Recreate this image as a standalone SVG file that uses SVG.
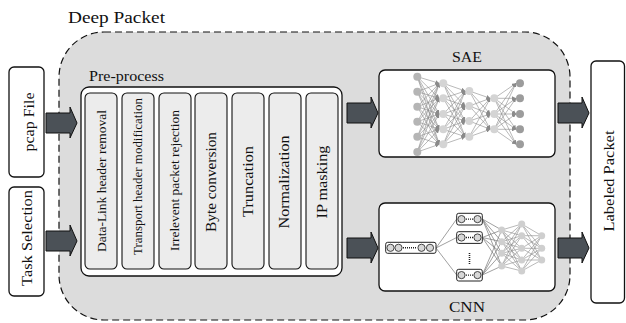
<svg xmlns="http://www.w3.org/2000/svg" width="626" height="323" viewBox="0 0 626 323">
<defs>
<style>
text{font-family:"Liberation Serif","Times New Roman",serif;fill:#111;}
.box{fill:#fff;stroke:#111;stroke-width:1.3;}
.col{fill:#ececec;stroke:#111;stroke-width:1.1;}
.arrow{fill:#4b5157;stroke:#111;stroke-width:1;}
.sae{stroke:#8a8a8a;stroke-width:0.6;fill:none;marker-end:url(#ah);}
.cnn{stroke:#777;stroke-width:0.7;fill:none;}
.cnnd{stroke:#8a8a8a;stroke-width:0.6;fill:none;}
.vbox{fill:#fff;stroke:#222;stroke-width:1;}
.vc{fill:#d8d8d8;stroke:#333;stroke-width:0.9;}
</style>
<marker id="ah" viewBox="0 0 6 6" refX="6" refY="3" markerWidth="4" markerHeight="4" orient="auto" markerUnits="userSpaceOnUse">
<path d="M0,0 L6,3 L0,6 z" fill="#8a8a8a"/>
</marker>
<path id="arr" d="M0,-10 H24 V-16 L31,0 L24,15 V10 H0 Z"/>
</defs>

<g id="deep-packet">
<rect x="59" y="32" width="511" height="288" rx="45" ry="45" fill="#dcdcdc" stroke="#111" stroke-width="1.2" stroke-dasharray="7,4"/>
<text x="68" y="23" font-size="16" textLength="97" lengthAdjust="spacingAndGlyphs">Deep Packet</text>
</g>

<g id="pcap-file">
<rect class="box" x="9" y="67" width="35" height="110" rx="5"/>
<text transform="rotate(-90 33.5 122)" x="33.5" y="122" font-size="15" text-anchor="middle" textLength="59" lengthAdjust="spacingAndGlyphs">pcap File</text>
</g>

<g id="task-selection">
<rect class="box" x="9" y="187" width="35" height="109" rx="5"/>
<text transform="rotate(-90 31.5 238)" x="31.5" y="238" font-size="15" text-anchor="middle" textLength="96" lengthAdjust="spacingAndGlyphs">Task Selection</text>
</g>

<g id="pre-process">
<text x="89" y="81" font-size="14" textLength="75" lengthAdjust="spacingAndGlyphs">Pre-process</text>
<rect class="box" x="81" y="87" width="261" height="189" rx="8"/>
<rect class="col" x="85" y="93" width="32" height="176" rx="5"/>
<rect class="col" x="122" y="93" width="32" height="176" rx="5"/>
<rect class="col" x="159" y="93" width="32" height="176" rx="5"/>
<rect class="col" x="195" y="93" width="32" height="176" rx="5"/>
<rect class="col" x="232" y="93" width="32" height="176" rx="5"/>
<rect class="col" x="269" y="93" width="32" height="176" rx="5"/>
<rect class="col" x="306" y="93" width="32" height="176" rx="5"/>
<text transform="rotate(-90 105.5 181)" x="105.5" y="181" font-size="12.5" text-anchor="middle" textLength="142" lengthAdjust="spacingAndGlyphs">Data-Link header removal</text>
<text transform="rotate(-90 142 176.5)" x="142" y="176.5" font-size="12" text-anchor="middle" textLength="157" lengthAdjust="spacingAndGlyphs">Transport header modification</text>
<text transform="rotate(-90 178.5 180.5)" x="178.5" y="180.5" font-size="12" text-anchor="middle" textLength="141" lengthAdjust="spacingAndGlyphs">Irrelevent packet rejection</text>
<text transform="rotate(-90 216 182)" x="216" y="182" font-size="14" text-anchor="middle" textLength="100" lengthAdjust="spacingAndGlyphs">Byte conversion</text>
<text transform="rotate(-90 252.5 181.5)" x="252.5" y="181.5" font-size="14" text-anchor="middle" textLength="71" lengthAdjust="spacingAndGlyphs">Truncation</text>
<text transform="rotate(-90 289 182)" x="289" y="182" font-size="14" text-anchor="middle" textLength="93" lengthAdjust="spacingAndGlyphs">Normalization</text>
<text transform="rotate(-90 326.5 182)" x="326.5" y="182" font-size="14" text-anchor="middle" textLength="73" lengthAdjust="spacingAndGlyphs">IP masking</text>
</g>

<g id="sae">
<text x="467" y="62" font-size="14" text-anchor="middle" textLength="30" lengthAdjust="spacingAndGlyphs">SAE</text>
<rect class="box" x="379" y="70" width="176" height="87" rx="6"/>
<g id="sae-edges">
<!-- L1 -> L2 -->
<path class="sae" d="M417.3,76.7 L439.3,83.3"/><path class="sae" d="M417.3,76.7 L439.3,98.3"/><path class="sae" d="M417.3,76.7 L439.3,114"/><path class="sae" d="M417.3,76.7 L439.3,129.3"/><path class="sae" d="M417.3,76.7 L439.3,144.3"/>
<path class="sae" d="M417.3,91.7 L439.3,83.3"/><path class="sae" d="M417.3,91.7 L439.3,98.3"/><path class="sae" d="M417.3,91.7 L439.3,114"/><path class="sae" d="M417.3,91.7 L439.3,129.3"/><path class="sae" d="M417.3,91.7 L439.3,144.3"/>
<path class="sae" d="M417.3,106.7 L439.3,83.3"/><path class="sae" d="M417.3,106.7 L439.3,98.3"/><path class="sae" d="M417.3,106.7 L439.3,114"/><path class="sae" d="M417.3,106.7 L439.3,129.3"/><path class="sae" d="M417.3,106.7 L439.3,144.3"/>
<path class="sae" d="M417.3,121.7 L439.3,83.3"/><path class="sae" d="M417.3,121.7 L439.3,98.3"/><path class="sae" d="M417.3,121.7 L439.3,114"/><path class="sae" d="M417.3,121.7 L439.3,129.3"/><path class="sae" d="M417.3,121.7 L439.3,144.3"/>
<path class="sae" d="M417.3,136.7 L439.3,83.3"/><path class="sae" d="M417.3,136.7 L439.3,98.3"/><path class="sae" d="M417.3,136.7 L439.3,114"/><path class="sae" d="M417.3,136.7 L439.3,129.3"/><path class="sae" d="M417.3,136.7 L439.3,144.3"/>
<path class="sae" d="M417.3,152 L439.3,83.3"/><path class="sae" d="M417.3,152 L439.3,98.3"/><path class="sae" d="M417.3,152 L439.3,114"/><path class="sae" d="M417.3,152 L439.3,129.3"/><path class="sae" d="M417.3,152 L439.3,144.3"/>
<!-- L2 -> L3 -->
<path class="sae" d="M443.3,83.3 L465.3,91"/><path class="sae" d="M443.3,83.3 L465.3,106"/><path class="sae" d="M443.3,83.3 L465.3,121"/><path class="sae" d="M443.3,83.3 L465.3,136.7"/>
<path class="sae" d="M443.3,98.3 L465.3,91"/><path class="sae" d="M443.3,98.3 L465.3,106"/><path class="sae" d="M443.3,98.3 L465.3,121"/><path class="sae" d="M443.3,98.3 L465.3,136.7"/>
<path class="sae" d="M443.3,114 L465.3,91"/><path class="sae" d="M443.3,114 L465.3,106"/><path class="sae" d="M443.3,114 L465.3,121"/><path class="sae" d="M443.3,114 L465.3,136.7"/>
<path class="sae" d="M443.3,129.3 L465.3,91"/><path class="sae" d="M443.3,129.3 L465.3,106"/><path class="sae" d="M443.3,129.3 L465.3,121"/><path class="sae" d="M443.3,129.3 L465.3,136.7"/>
<path class="sae" d="M443.3,144.3 L465.3,91"/><path class="sae" d="M443.3,144.3 L465.3,106"/><path class="sae" d="M443.3,144.3 L465.3,121"/><path class="sae" d="M443.3,144.3 L465.3,136.7"/>
<!-- L3 -> L4 -->
<path class="sae" d="M469.3,91 L490.3,98.3"/><path class="sae" d="M469.3,91 L490.3,114"/><path class="sae" d="M469.3,91 L490.3,129.3"/>
<path class="sae" d="M469.3,106 L490.3,98.3"/><path class="sae" d="M469.3,106 L490.3,114"/><path class="sae" d="M469.3,106 L490.3,129.3"/>
<path class="sae" d="M469.3,121 L490.3,98.3"/><path class="sae" d="M469.3,121 L490.3,114"/><path class="sae" d="M469.3,121 L490.3,129.3"/>
<path class="sae" d="M469.3,136.7 L490.3,98.3"/><path class="sae" d="M469.3,136.7 L490.3,114"/><path class="sae" d="M469.3,136.7 L490.3,129.3"/>
<!-- L4 -> L5 -->
<path class="sae" d="M494.3,98.3 L516,83.3"/><path class="sae" d="M494.3,98.3 L516,98.3"/><path class="sae" d="M494.3,98.3 L516,114"/><path class="sae" d="M494.3,98.3 L516,129.3"/><path class="sae" d="M494.3,98.3 L516,144.3"/>
<path class="sae" d="M494.3,114 L516,83.3"/><path class="sae" d="M494.3,114 L516,98.3"/><path class="sae" d="M494.3,114 L516,114"/><path class="sae" d="M494.3,114 L516,129.3"/><path class="sae" d="M494.3,114 L516,144.3"/>
<path class="sae" d="M494.3,129.3 L516,83.3"/><path class="sae" d="M494.3,129.3 L516,98.3"/><path class="sae" d="M494.3,129.3 L516,114"/><path class="sae" d="M494.3,129.3 L516,129.3"/><path class="sae" d="M494.3,129.3 L516,144.3"/>
</g>
<g id="sae-nodes">
<g fill="#b5b5b5">
<circle cx="417.3" cy="76.7" r="4"/><circle cx="417.3" cy="91.7" r="4"/><circle cx="417.3" cy="106.7" r="4"/><circle cx="417.3" cy="121.7" r="4"/><circle cx="417.3" cy="136.7" r="4"/><circle cx="417.3" cy="152" r="4"/>
</g>
<g fill="#d4d4d4">
<circle cx="443.3" cy="83.3" r="4"/><circle cx="443.3" cy="98.3" r="4"/><circle cx="443.3" cy="114" r="4"/><circle cx="443.3" cy="129.3" r="4"/><circle cx="443.3" cy="144.3" r="4"/>
<circle cx="469.3" cy="91" r="4"/><circle cx="469.3" cy="106" r="4"/><circle cx="469.3" cy="121" r="4"/><circle cx="469.3" cy="136.7" r="4"/>
<circle cx="494.3" cy="98.3" r="4"/><circle cx="494.3" cy="114" r="4"/><circle cx="494.3" cy="129.3" r="4"/>
</g>
<g fill="#9c9c9c">
<circle cx="520" cy="83.3" r="4"/><circle cx="520" cy="98.3" r="4"/><circle cx="520" cy="114" r="4"/><circle cx="520" cy="129.3" r="4"/><circle cx="520" cy="144.3" r="4"/>
</g>
</g>
</g>

<g id="cnn">
<text x="467" y="312" font-size="14" text-anchor="middle" textLength="36" lengthAdjust="spacingAndGlyphs">CNN</text>
<rect class="box" x="379" y="203" width="176" height="88" rx="6"/>
<g id="cnn-edges">
<path class="cnn" d="M436,248 L456.7,219"/><path class="cnn" d="M436,248 L456.7,237.5"/><path class="cnn" d="M436,248 L456.7,275"/>
<path class="cnn" d="M482.3,219 L501.7,230"/><path class="cnn" d="M482.3,219 L501.7,241.7"/><path class="cnn" d="M482.3,219 L501.7,253.3"/><path class="cnn" d="M482.3,219 L501.7,266"/>
<path class="cnn" d="M482.3,237.5 L501.7,230"/><path class="cnn" d="M482.3,237.5 L501.7,241.7"/><path class="cnn" d="M482.3,237.5 L501.7,253.3"/><path class="cnn" d="M482.3,237.5 L501.7,266"/>
<path class="cnn" d="M482.3,275 L501.7,230"/><path class="cnn" d="M482.3,275 L501.7,241.7"/><path class="cnn" d="M482.3,275 L501.7,253.3"/><path class="cnn" d="M482.3,275 L501.7,266"/>
<path class="cnnd" d="M501.7,230 L521.7,224 M501.7,230 L521.7,235.7 M501.7,230 L521.7,248.3 M501.7,230 L521.7,260 M501.7,230 L521.7,271"/>
<path class="cnnd" d="M501.7,241.7 L521.7,224 M501.7,241.7 L521.7,235.7 M501.7,241.7 L521.7,248.3 M501.7,241.7 L521.7,260 M501.7,241.7 L521.7,271"/>
<path class="cnnd" d="M501.7,253.3 L521.7,224 M501.7,253.3 L521.7,235.7 M501.7,253.3 L521.7,248.3 M501.7,253.3 L521.7,260 M501.7,253.3 L521.7,271"/>
<path class="cnnd" d="M501.7,266 L521.7,224 M501.7,266 L521.7,235.7 M501.7,266 L521.7,248.3 M501.7,266 L521.7,260 M501.7,266 L521.7,271"/>
<path class="cnnd" d="M521.7,224 L541.7,235.7 M521.7,224 L541.7,248.3 M521.7,224 L541.7,260"/>
<path class="cnnd" d="M521.7,235.7 L541.7,235.7 M521.7,235.7 L541.7,248.3 M521.7,235.7 L541.7,260"/>
<path class="cnnd" d="M521.7,248.3 L541.7,235.7 M521.7,248.3 L541.7,248.3 M521.7,248.3 L541.7,260"/>
<path class="cnnd" d="M521.7,260 L541.7,235.7 M521.7,260 L541.7,248.3 M521.7,260 L541.7,260"/>
<path class="cnnd" d="M521.7,271 L541.7,235.7 M521.7,271 L541.7,248.3 M521.7,271 L541.7,260"/>
</g>
<g id="cnn-input">
<rect class="vbox" x="385.7" y="242.3" width="50.3" height="11" rx="2"/>
<circle class="vc" cx="390.5" cy="247.8" r="3.6"/><circle class="vc" cx="398.5" cy="247.8" r="3.6"/>
<circle class="vc" cx="421.5" cy="247.8" r="3.6"/><circle class="vc" cx="430" cy="247.8" r="3.6"/>
<path d="M403,247.8 H417" stroke="#222" stroke-width="1.6" stroke-dasharray="1,1"/>
</g>
<g id="cnn-maps">
<rect class="vbox" x="456.7" y="213.3" width="25.6" height="11.7" rx="2"/>
<circle class="vc" cx="461.5" cy="219.1" r="3.6"/><circle class="vc" cx="477.5" cy="219.1" r="3.6"/><path d="M466,219.1 H473" stroke="#222" stroke-width="1.4" stroke-dasharray="1,1"/>
<rect class="vbox" x="456.7" y="231.7" width="25.6" height="11.7" rx="2"/>
<circle class="vc" cx="461.5" cy="237.5" r="3.6"/><circle class="vc" cx="477.5" cy="237.5" r="3.6"/><path d="M466,237.5 H473" stroke="#222" stroke-width="1.4" stroke-dasharray="1,1"/>
<rect class="vbox" x="456.7" y="269.3" width="25.6" height="11.7" rx="2"/>
<circle class="vc" cx="461.5" cy="275.1" r="3.6"/><circle class="vc" cx="477.5" cy="275.1" r="3.6"/><path d="M466,275.1 H473" stroke="#222" stroke-width="1.4" stroke-dasharray="1,1"/>
<path d="M469.5,253 V264" stroke="#222" stroke-width="1.6" stroke-dasharray="1,1"/>
</g>
<g id="cnn-nodes" fill="#cfcfcf">
<circle cx="501.7" cy="230" r="3.5"/><circle cx="501.7" cy="241.7" r="3.5"/><circle cx="501.7" cy="253.3" r="3.5"/><circle cx="501.7" cy="266" r="3.5"/>
<circle cx="521.7" cy="224" r="3.5"/><circle cx="521.7" cy="235.7" r="3.5"/><circle cx="521.7" cy="248.3" r="3.5"/><circle cx="521.7" cy="260" r="3.5"/><circle cx="521.7" cy="271" r="3.5"/>
<circle cx="541.7" cy="235.7" r="3.5"/><circle cx="541.7" cy="248.3" r="3.5"/><circle cx="541.7" cy="260" r="3.5"/>
</g>
</g>

<g id="labeled-packet">
<rect class="box" x="591" y="61" width="33.5" height="242" rx="5"/>
<text transform="rotate(-90 613.5 181)" x="613.5" y="181" font-size="15" text-anchor="middle" textLength="101" lengthAdjust="spacingAndGlyphs">Labeled Packet</text>
</g>

<g id="connectors">
<use href="#arr" class="arrow" x="46" y="123"/>
<use href="#arr" class="arrow" x="46" y="241"/>
<use href="#arr" class="arrow" x="347" y="113"/>
<use href="#arr" class="arrow" x="347" y="248"/>
<use href="#arr" class="arrow" x="558" y="113"/>
<use href="#arr" class="arrow" x="558" y="248"/>
</g>
</svg>
